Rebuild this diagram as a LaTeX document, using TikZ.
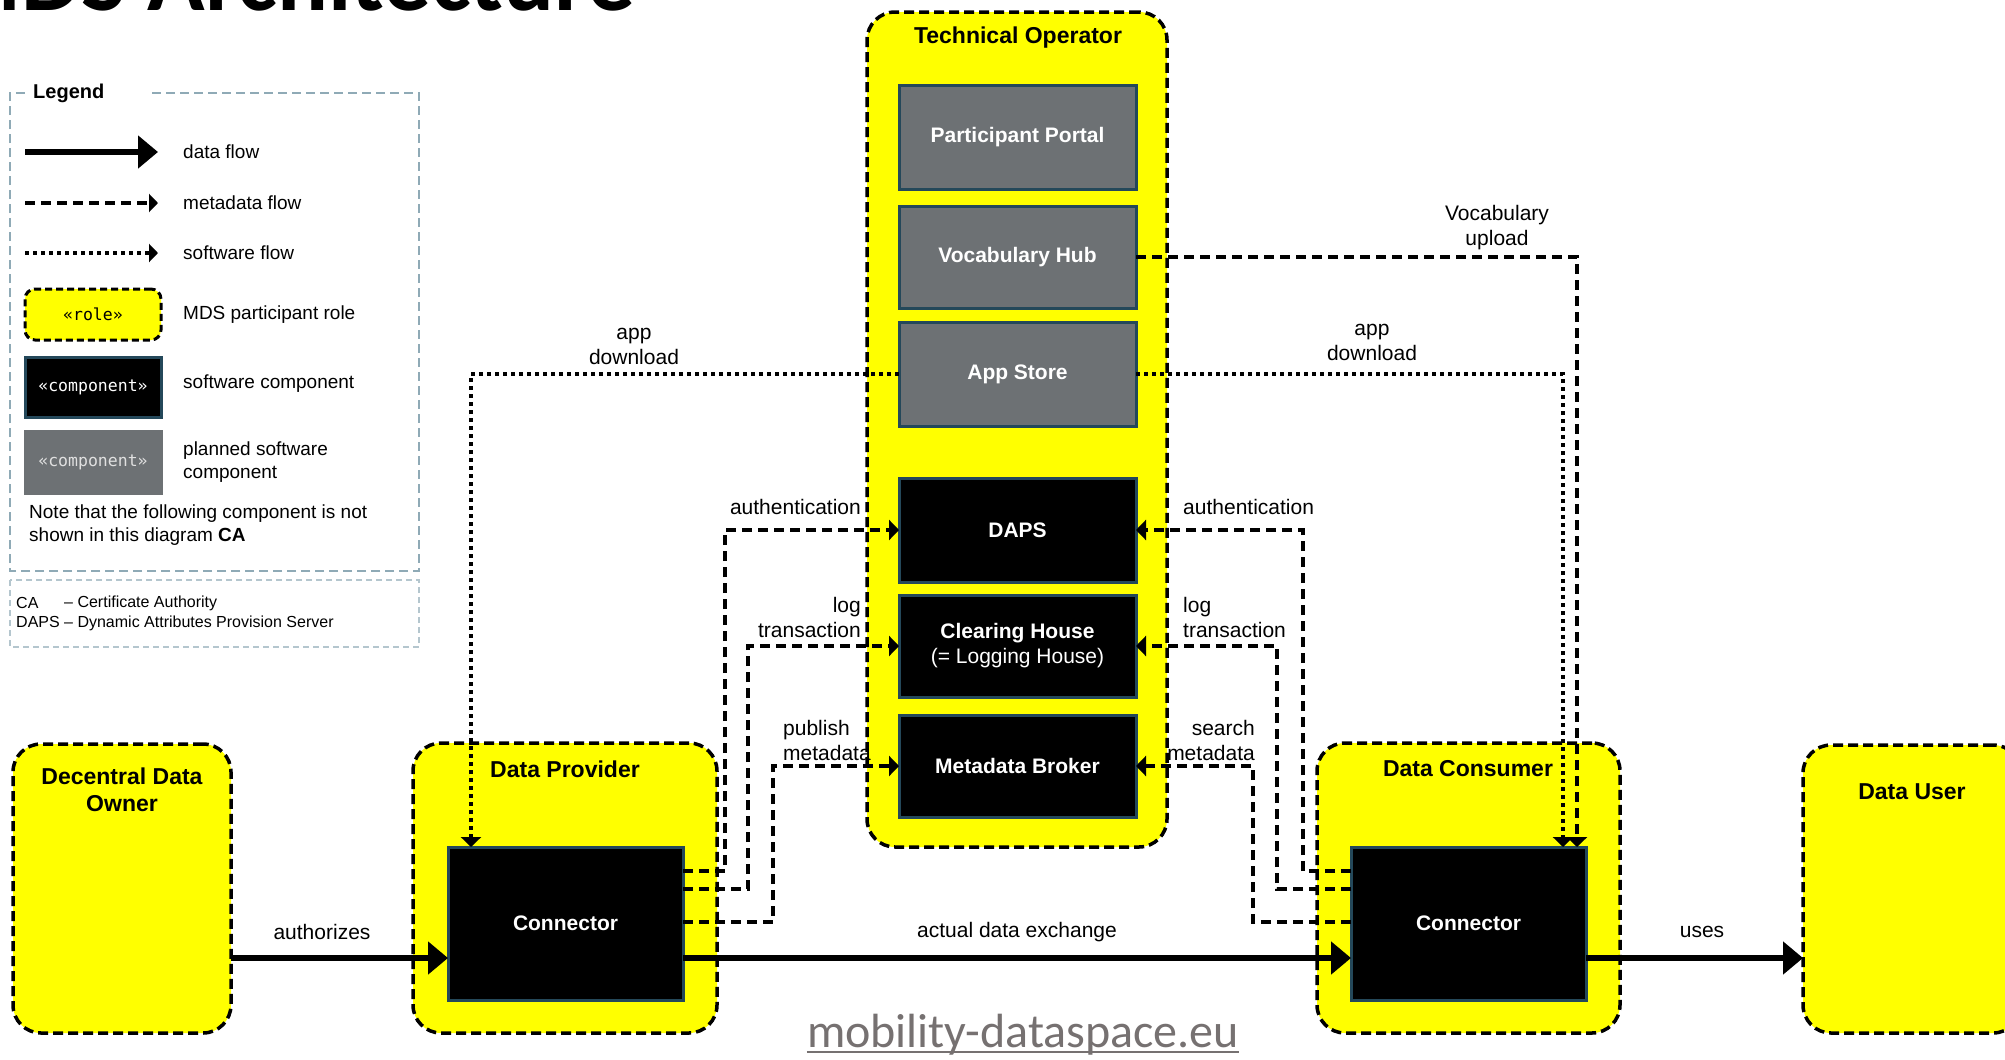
\documentclass[tikz,border=0pt]{standalone}
\usepackage{fontspec}
\setmainfont{Liberation Sans}
\newfontfamily\carlito{Carlito}
\newfontfamily\monofont{DejaVu Sans Mono}
\usetikzlibrary{arrows.meta}
\definecolor{roleyellow}{HTML}{FFFF00}
\definecolor{compborder}{HTML}{24485A}
\definecolor{plangray}{HTML}{6D7174}
\definecolor{legendborder}{HTML}{8FAAB6}
\definecolor{abbrborder}{HTML}{B4C6CE}
\definecolor{urlgray}{HTML}{767171}
\tikzset{
 rolebox/.style={draw=black, fill=roleyellow, line width=3.5pt, dash pattern=on 10pt off 5pt, rounded corners=28pt, inner sep=0, outer sep=0},
 compbox/.style={draw=compborder, fill=black, line width=3pt, inner sep=0, outer sep=0, text=white, font=\fontsize{21}{25}\selectfont\bfseries, align=center},
 planbox/.style={compbox, fill=plangray},
 roletitle/.style={inner sep=0, font=\fontsize{23}{27}\selectfont\bfseries, align=center},
 lbl/.style={inner sep=0, font=\fontsize{21}{25}\selectfont},
 dataflow/.style={line width=6pt, -{Triangle[length=20pt,width=32pt]}},
 metaflow/.style={line width=3.5pt, dash pattern=on 10pt off 6pt, -{Triangle[length=10pt,width=20pt]}},
 softflow/.style={line width=3.5pt, dash pattern=on 4pt off 4pt, -{Triangle[length=10pt,width=20pt]}},
 legtext/.style={inner sep=0, anchor=west, font=\fontsize{19}{23}\selectfont, align=left},
 stereo/.style={font=\monofont\fontsize{16.5}{18}\selectfont},
}
\begin{document}
\begin{tikzpicture}[x=1pt,y=-1pt]
\useasboundingbox (0,0) rectangle (2005,1060);
\clip (0,0) rectangle (2005,1060);
\fill[white] (0,0) rectangle (2005,1060);

% page title (cut off at the top edge, as in the reference) and url
\node[anchor=base west, inner sep=0, font=\carlito\bfseries\fontsize{95}{95}\selectfont] (title) at (-62,10) {MDS Architecture};
\node[anchor=base, inner sep=0, font=\carlito\fontsize{48}{50}\selectfont, text=urlgray] (url) at (1023,1047) {mobility-dataspace.eu};
\draw[urlgray, line width=1.6pt] ([yshift=-5pt]url.base west) -- ([yshift=-5pt]url.base east);

% legend
\draw[legendborder, line width=2.5pt, dash pattern=on 9pt off 5pt] (152,93) -- (419,93) -- (419,571) -- (10,571) -- (10,93) -- (25,93);
\node[anchor=west, inner sep=0, font=\fontsize{20}{24}\selectfont\bfseries] (legtitle) at (33,93) {Legend};
\coordinate (l1a) at (25,152); \coordinate (l1b) at (158,152);
\coordinate (l2a) at (25,203); \coordinate (l2b) at (158,203);
\coordinate (l3a) at (25,253); \coordinate (l3b) at (158,253);
\draw[dataflow] (l1a) -- (l1b);
\draw[metaflow, -{Triangle[length=9pt,width=18pt]}] (l2a) -- (l2b);
\draw[softflow, -{Triangle[length=9pt,width=18pt]}] (l3a) -- (l3b);
\node[rolebox, rounded corners=10pt, line width=3pt, dash pattern=on 7pt off 4pt, minimum width=136pt, minimum height=51pt, stereo] (legrole) at (93,314.5) {«role»};
\node[compbox, minimum width=136pt, minimum height=60pt, stereo] (legcomp) at (93,387) {«component»};
\node[planbox, draw=plangray, minimum width=136pt, minimum height=62pt, text=white!88!black, stereo] (legplan) at (93,462) {«component»};
\node[legtext] (lt1) at (183,152) {data flow};
\node[legtext] (lt2) at (183,203) {metadata flow};
\node[legtext] (lt3) at (183,253) {software flow};
\node[legtext] (lt4) at (183,315) {MDS participant role};
\node[legtext] (lt5) at (183,384) {software component};
\node[legtext] (lt6) at (183,462) {planned software\\component};
\node[legtext] (note) at (29,525) {Note that the following component is not\\shown in this diagram \textbf{CA}};
\draw[abbrborder, line width=1.5pt, dash pattern=on 6pt off 4pt] (10,580) rectangle (419,647);
\node[inner sep=0, anchor=west, font=\fontsize{16}{19}\selectfont] (abca) at (16,603) {CA};
\node[inner sep=0, anchor=west, font=\fontsize{16}{19}\selectfont] (abcat) at (64,603) {– Certificate Authority};
\node[inner sep=0, anchor=west, font=\fontsize{16}{19}\selectfont] (abdaps) at (16,623) {DAPS – Dynamic Attributes Provision Server};

% role boxes
\node[rolebox, minimum width=218pt, minimum height=289pt] (ddo) at (122,888.5) {};
\node[rolebox, minimum width=304pt, minimum height=290pt] (dp) at (565,888) {};
\node[rolebox, minimum width=300pt, minimum height=835pt] (to) at (1017,429.5) {};
\node[rolebox, minimum width=303pt, minimum height=290pt] (dc) at (1468.5,888) {};
\node[rolebox, minimum width=218pt, minimum height=288pt] (du) at (1912,889) {};
\node[roletitle] (tot) at (1018,38) {Technical Operator};
\node[roletitle] (dpt) at (565,769) {Data Provider};
\node[roletitle] (dct) at (1468,769) {Data Consumer};
\node[roletitle] (ddot) at (122,790) {Decentral Data\\Owner};
\node[roletitle] (dut) at (1912,792) {Data User};

% components
\node[planbox, minimum width=237pt, minimum height=104pt] (pp) at (1017.5,137) {Participant Portal};
\node[planbox, minimum width=237pt, minimum height=102pt] (vh) at (1017.5,257) {Vocabulary Hub};
\node[planbox, minimum width=237pt, minimum height=104pt] (as) at (1017.5,374) {App Store};
\node[compbox, minimum width=237pt, minimum height=104pt] (daps) at (1017.5,530) {DAPS};
\node[compbox, minimum width=237pt, minimum height=102pt] (ch) at (1017.5,646) {Clearing House\\{\mdseries (= Logging House)}};
\node[compbox, minimum width=237pt, minimum height=102pt] (mb) at (1017.5,766) {Metadata Broker};
\node[compbox, minimum width=235pt, minimum height=153pt] (cp) at (565.5,923.5) {Connector};
\node[compbox, minimum width=235pt, minimum height=153pt] (cc) at (1468.5,923.5) {Connector};

% helper coordinates
\coordinate (yA) at (0,871); \coordinate (yL) at (0,889); \coordinate (yP) at (0,922);
\coordinate (yF) at (0,958);
\coordinate (xLA) at (725,0); \coordinate (xLL) at (748,0); \coordinate (xLP) at (773,0);
\coordinate (xRA) at (1303,0); \coordinate (xRL) at (1277,0); \coordinate (xRS) at (1253,0);
\coordinate (xSL) at (471,0); \coordinate (xSR) at (1563,0); \coordinate (xVR) at (1577,0);

% connectors
\draw[metaflow] (cp.east |- yA) -| (xLA |- daps.west) -- (daps.west);
\draw[metaflow] (cp.east |- yL) -| (xLL |- ch.west) -- (ch.west);
\draw[metaflow] (cp.east |- yP) -| (xLP |- mb.west) -- (mb.west);
\draw[metaflow] (cc.west |- yA) -| (xRA |- daps.east) -- (daps.east);
\draw[metaflow] (cc.west |- yL) -| (xRL |- ch.east) -- (ch.east);
\draw[metaflow] (cc.west |- yP) -| (xRS |- mb.east) -- (mb.east);
\draw[softflow] (as.west) -| (xSL |- cp.north);
\draw[softflow] (as.east) -| (xSR |- cc.north);
\draw[metaflow] (vh.east) -| (xVR |- cc.north);
\draw[dataflow] (ddo.east |- yF) -- (cp.west |- yF);
\draw[dataflow] (cp.east |- yF) -- (cc.west |- yF);
\draw[dataflow] (cc.east |- yF) -- (du.west |- yF);

% labels
\node[lbl, align=center] (appdlL) at (634,346) {app\\download};
\node[lbl, align=center] (vocup) at (1497,228) {Vocabulary\\upload};
\node[lbl, align=center] (appdlR) at (1372,342) {app\\download};
\node[lbl, anchor=east] (authL) at (861,507) {authentication};
\node[lbl, anchor=east, align=right] (logL) at (861,617) {log\\transaction};
\node[lbl, anchor=west, align=left] (pubL) at (783,740) {publish\\metadata};
\node[lbl, anchor=west] (authR) at (1183,507) {authentication};
\node[lbl, anchor=west, align=left] (logR) at (1183,617) {log\\transaction};
\node[lbl, anchor=east, align=right] (searchR) at (1255,740) {search\\metadata};
\node[lbl] (authz) at (322,932) {authorizes};
\node[lbl] (ade) at (1017,932) {actual data exchange};
\node[lbl] (uses) at (1702,932) {uses};
\end{tikzpicture}
\end{document}
